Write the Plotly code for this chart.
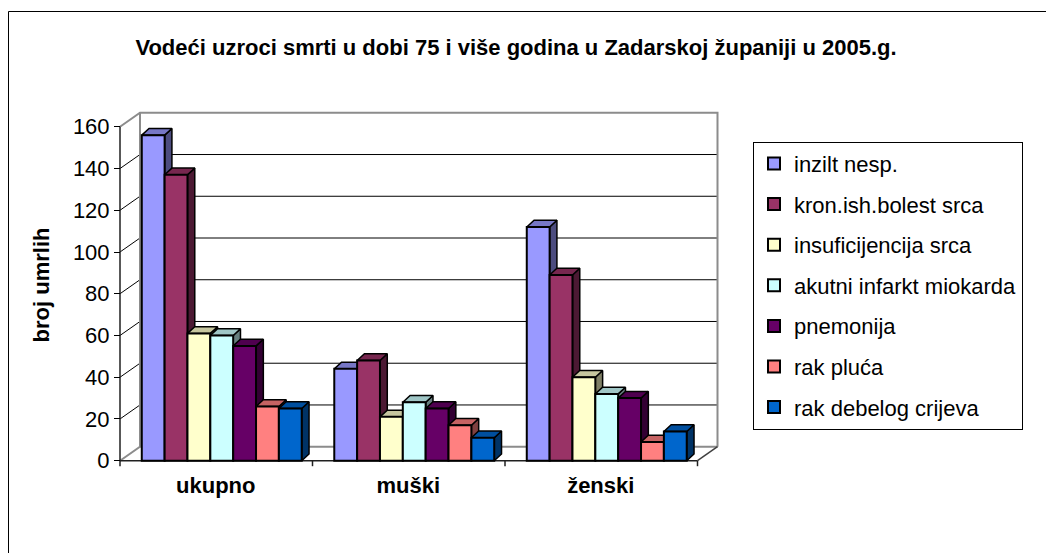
import plotly.graph_objects as go

# ---------------- data ----------------
categories = ["ukupno", "muški", "ženski"]
series_names = ["inzilt nesp.", "kron.ish.bolest srca", "insuficijencija srca",
                "akutni infarkt miokarda", "pnemonija", "rak pluća", "rak debelog crijeva"]
inzilt = [156, 44, 112]
kron_ish = [137, 48, 89]
insuficijencija = [61, 21, 40]
akutni_infarkt = [60, 28, 32]
pnemonija = [55, 25, 30]
rak_pluca = [26, 17, 9]
rak_crijeva = [25, 11, 14]
series_values = [inzilt, kron_ish, insuficijencija, akutni_infarkt, pnemonija, rak_pluca, rak_crijeva]
y_ticks = [0, 20, 40, 60, 80, 100, 120, 140, 160]
y_ticklabels = ["0", "20", "40", "60", "80", "100", "120", "140", "160"]

colors = ["#9999FF", "#993366", "#FFFFCC", "#CCFFFF", "#660066", "#FF8080", "#0066CC"]

title = "Vodeći uzroci smrti u dobi 75 i više godina u Zadarskoj županiji u 2005.g."
y_title = "broj umrlih"

# ---------------- layout geometry (page pixels) ----------------
OFF = 8                 # page body margin
PAGE_W, PAGE_H = 1054, 553
W, H = PAGE_W - OFF, PAGE_H - OFF
PL, PR, PT, PB = 100, 730, 100, 470   # plot area in page pixels
ML, MR, MT, MB = PL - OFF, PAGE_W - PR, PT - OFF, PAGE_H - PB
CAT_PX = 192.5          # width of one category along the front edge
FRONT_X0 = 120.0        # front-left corner of the floor
FRONT_Y0 = 460.7        # front zero line
UNIT_PX = 2.087         # pixels per unit on the value axis
GROUP_SHIFT = 5.5       # bars sit slightly behind the front plane
WALL_DX, WALL_DY = 20.0, 14.0
BAR_DX, BAR_DY = 7.3, 6.7
BARGAP = 0.169
FONT = "Liberation Sans, Arial, sans-serif"


def X(px):
    return (px - (FRONT_X0 + CAT_PX / 2 + GROUP_SHIFT)) / CAT_PX


def Y(py):
    return (FRONT_Y0 - py) / UNIT_PX


xr = [X(PL), X(PR)]
yr = [Y(PB), Y(PT)]
ddx = BAR_DX / CAT_PX
ddy = BAR_DY / UNIT_PX
wdx = WALL_DX / CAT_PX
wdy = WALL_DY / UNIT_PX
ymax = y_ticks[-1]
n_cat = len(categories)
fx0 = X(FRONT_X0)
fx1 = fx0 + n_cat


def shade(hexcol, f):
    h = hexcol.lstrip("#")
    r, g, b = (int(h[i:i + 2], 16) for i in (0, 2, 4))
    return "rgb(%d,%d,%d)" % (r * f, g * f, b * f)


fig = go.Figure()


def add_lines(xs, ys, color, width):
    fig.add_trace(go.Scatter(x=xs, y=ys, mode="lines", line=dict(color=color, width=width),
                             hoverinfo="skip", showlegend=False, xaxis="x", yaxis="y"))


# gridlines on back wall and left wall
gx, gy, lx, ly = [], [], [], []
for v in y_ticks[1:-1]:
    gx += [fx0 + wdx, fx1 + wdx, None]
    gy += [v + wdy, v + wdy, None]
    lx += [fx0, fx0 + wdx, None]
    ly += [v, v + wdy, None]
add_lines(gx, gy, "#000000", 1)
add_lines(lx, ly, "#000000", 1)

# wall edges (gray)
ex = [fx0, fx0 + wdx, fx1 + wdx, fx1 + wdx, None,
      fx0 + wdx, fx0 + wdx, None,
      fx0, fx0 + wdx, fx1 + wdx, None]
ey = [ymax, ymax + wdy, ymax + wdy, wdy, None,
      ymax + wdy, wdy, None,
      0, wdy, wdy, None]
add_lines(ex, ey, "#8c8c8c", 2)
# floor right edge
add_lines([fx1, fx1 + wdx], [0, wdy], "#404040", 1.5)
# front axis line, floor front edge and category boundary ticks
tick_len = 5.5 / UNIT_PX
fxs = [fx0, fx0, None, fx0, fx1, None]
fys = [ymax, -tick_len, None, 0, 0, None]
for k in range(1, n_cat + 1):
    fxs += [fx0 + k, fx0 + k, None]
    fys += [0, -tick_len, None]
add_lines(fxs, fys, "#202020", 1.5)

# 3D faces of bars (side and top)
group_w = 1 - BARGAP
bw = group_w / len(series_values)
for i, (vals, col) in enumerate(zip(series_values, colors)):
    sx, sy, tx, ty = [], [], [], []
    for c, h in enumerate(vals):
        left = c - group_w / 2 + i * bw
        right = left + bw
        sx += [right, right, right + ddx, right + ddx, right, None]
        sy += [0, h, h + ddy, ddy, 0, None]
        tx += [left, right, right + ddx, left + ddx, left, None]
        ty += [h, h, h + ddy, h + ddy, h, None]
    fig.add_trace(go.Scatter(x=sx, y=sy, mode="lines", fill="toself",
                             fillcolor=shade(col, 0.5), line=dict(color="black", width=1.5),
                             hoverinfo="skip", showlegend=False, xaxis="x", yaxis="y"))
    fig.add_trace(go.Scatter(x=tx, y=ty, mode="lines", fill="toself",
                             fillcolor=shade(col, 0.78), line=dict(color="black", width=1.5),
                             hoverinfo="skip", showlegend=False, xaxis="x", yaxis="y"))

# front faces (real bars) on an overlaying subplot so they sit on top
for i, (name, vals, col) in enumerate(zip(series_names, series_values, colors)):
    fig.add_trace(go.Bar(name=name, x=list(range(n_cat)), y=vals,
                         marker=dict(color=col, line=dict(color="black", width=2)),
                         legendgroup=name, xaxis="x2", yaxis="y2"))

pw = PR - PL
ph = PB - PT


def px_x(px):
    return (px - PL) / pw


def px_y(py):
    return (PB - py) / ph


fig.update_layout(
    width=W, height=H, autosize=False,
    margin=dict(l=ML, r=MR, t=MT, b=MB, pad=0),
    paper_bgcolor="white", plot_bgcolor="rgba(0,0,0,0)",
    font=dict(family=FONT, color="black", size=22),
    barmode="group", bargap=BARGAP, bargroupgap=0,
    title=dict(text=title, x=(516 - OFF) / W, y=1 - (47 - OFF) / H,
               xanchor="center", yanchor="middle",
               font=dict(size=22, weight="bold", family=FONT)),
    xaxis=dict(range=xr, tickvals=list(range(n_cat)), ticktext=categories,
               showgrid=False, zeroline=False, showline=False, ticks="",
               tickfont=dict(size=22, weight="bold"), ticklabelshift=-int(round(GROUP_SHIFT)),
               anchor="free", position=0, fixedrange=True),
    yaxis=dict(range=yr, tickvals=y_ticks, ticktext=y_ticklabels,
               showgrid=False, zeroline=False, showline=False,
               ticks="outside", ticklen=6, tickwidth=1, tickcolor="black",
               tickfont=dict(size=22), anchor="free", position=px_x(FRONT_X0),
               title=dict(text=y_title, font=dict(size=22, weight="bold"), standoff=16),
               fixedrange=True),
    xaxis2=dict(range=xr, overlaying="x", visible=False, fixedrange=True),
    yaxis2=dict(range=yr, overlaying="y", visible=False, fixedrange=True),
    legend=dict(x=px_x(753), y=px_y(141.7), xanchor="left", yanchor="top",
                bordercolor="black", borderwidth=1, bgcolor="white",
                font=dict(size=22), tracegroupgap=9, traceorder="grouped"),
    shapes=[dict(type="rect", xref="paper", yref="paper",
                 x0=px_x(OFF + 0.5), x1=px_x(PAGE_W + 10), y0=px_y(PAGE_H + 10), y1=px_y(11.5),
                 line=dict(color="black", width=1), layer="below")],
)

fig.write_html("out.html")
